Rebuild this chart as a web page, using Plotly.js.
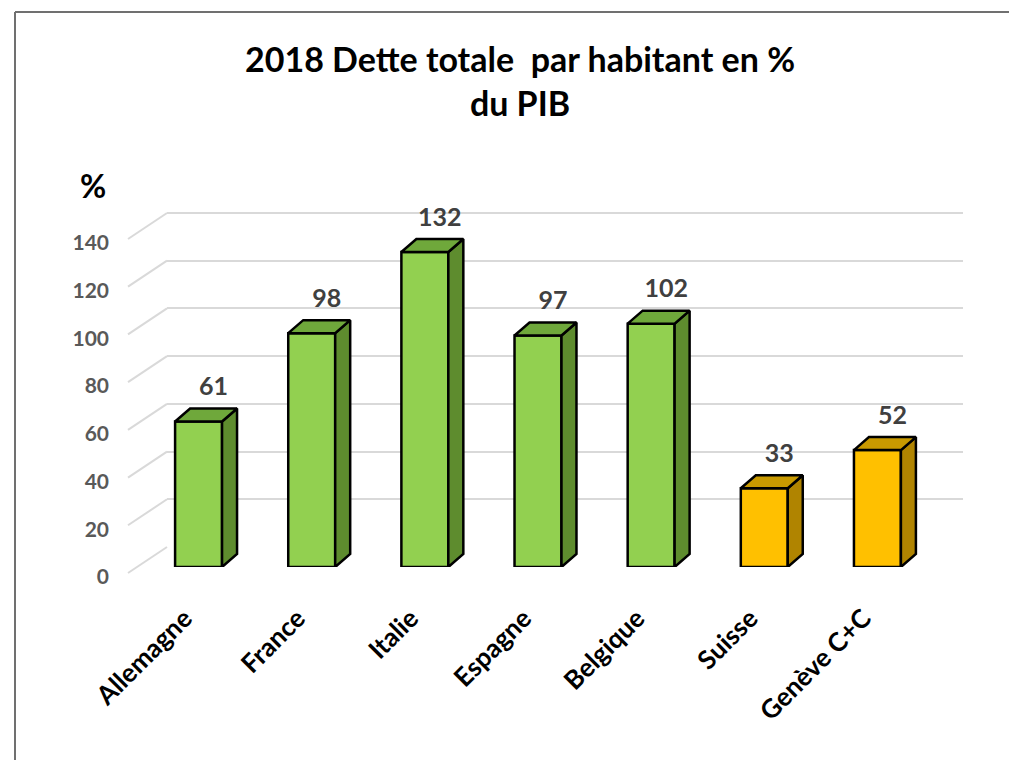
<!DOCTYPE html>
<html>
<head>
<meta charset="utf-8">
<script src="https://cdn.plot.ly/plotly-3.0.1.min.js"></script>
<style>html,body{margin:0;padding:0;background:#fff;}#chart{width:1009px;height:760px;}</style>
</head>
<body>
<div id="chart"></div>
<script>
// ---- data ----
var categories = ["Allemagne", "France", "Italie", "Espagne", "Belgique", "Suisse", "Genève C+C"];
var values = [61, 98, 132, 97, 102, 33, 49];
var valueLabels = ["61", "98", "132", "97", "102", "33", "52"];
var groups = ["eu", "eu", "eu", "eu", "eu", "ch", "ch"];
var yTicks = [0, 20, 40, 60, 80, 100, 120, 140];

// ---- styles ----
var FONT = "Lato, 'Open Sans', sans-serif";
var palette = {
  eu: {front: "#92D050", side: "#5E8C2E", top: "#6FA83B"},
  ch: {front: "#FFC000", side: "#B08400", top: "#C99A00"}
};
var W = 1009, H = 760;
// pixel geometry
var frontL = 142, frontR = 934, frontBottom = 567, frontTop = 180;
var backL = 167, backR = 963, backBottom = 547, backTop = 160;
var pxPerUnit = 2.386;
var yMax = (frontBottom - frontTop) / pxPerUnit;
var n = categories.length;
var pxPerCat = (frontR - frontL) / n;
var barW = 0.415;
var depthX = 15 / pxPerCat;      // in x units
var depthY = 13 / pxPerUnit;     // in y units

var xs = categories.map(function(_, i){ return i; });

var traces = [];
// invisible trace on back wall subplot to make it render
traces.push({x:[0], y:[0], xaxis:"x", yaxis:"y", type:"scatter", mode:"markers",
  marker:{opacity:0}, hoverinfo:"skip", showlegend:false});

// front faces
traces.push({
  type:"bar", x: xs, y: values, width: barW, xaxis:"x2", yaxis:"y2",
  marker:{color: groups.map(function(g){return palette[g].front;}), line:{color:"#000", width:2.5}},
  hoverinfo:"skip", showlegend:false
});

// side and top faces per group
["eu","ch"].forEach(function(g){
  var sx=[], sy=[], tx=[], ty=[];
  xs.forEach(function(x, i){
    if (groups[i] !== g) return;
    var v = values[i], r = x + barW/2, l = x - barW/2;
    sx.push(r, r+depthX, r+depthX, r, r, null);
    sy.push(0, depthY, v+depthY, v, 0, null);
    tx.push(l, r, r+depthX, l+depthX, l, null);
    ty.push(v, v, v+depthY, v+depthY, v, null);
  });
  traces.push({type:"scatter", mode:"lines", x:sx, y:sy, fill:"toself", fillcolor:palette[g].side,
    line:{color:"#000", width:2.5}, xaxis:"x2", yaxis:"y2", hoverinfo:"skip", showlegend:false, connectgaps:false});
  traces.push({type:"scatter", mode:"lines", x:tx, y:ty, fill:"toself", fillcolor:palette[g].top,
    line:{color:"#000", width:2.5}, xaxis:"x2", yaxis:"y2", hoverinfo:"skip", showlegend:false, connectgaps:false});
});

// value labels
traces.push({
  type:"scatter", mode:"text", x: xs.map(function(x){return x + depthX;}),
  y: values.map(function(v){return v + depthY + 3;}),
  text: valueLabels, textposition:"top center",
  textfont:{family:FONT, size:25, color:"#404040", weight:700},
  xaxis:"x2", yaxis:"y2", hoverinfo:"skip", showlegend:false, cliponaxis:false
});

// diagonal connectors from front labels to back wall gridlines
var shapes = [];
yTicks.forEach(function(t){
  var yFront = frontBottom + 8 - t*pxPerUnit;
  var yBack = backBottom - t*pxPerUnit;
  shapes.push({type:"line", xref:"paper", yref:"paper",
    x0: 128/W, y0: 1 - (yFront-2)/H, x1: backL/W, y1: 1 - yBack/H,
    line:{color:"#D9D9D9", width:2}, layer:"below"});
});
// frame
shapes.push({type:"line", xref:"paper", yref:"paper", x0:15/W, y0:1-12/H, x1:1, y1:1-12/H, line:{color:"#707070", width:2}});
shapes.push({type:"line", xref:"paper", yref:"paper", x0:15/W, y0:1-12/H, x1:15/W, y1:0, line:{color:"#707070", width:2}});

var layout = {
  width: W, height: H,
  margin:{l:0, r:0, t:0, b:0},
  paper_bgcolor:"#fff", plot_bgcolor:"rgba(0,0,0,0)",
  showlegend:false,
  title:{text:"2018 Dette totale  par habitant en %<br>du PIB", x:520/W, xanchor:"center",
    y:1-72/H, yanchor:"middle", yref:"paper",
    font:{family:FONT, size:34, color:"#000", weight:700}},
  xaxis:{domain:[backL/W, backR/W], range:[-0.5, n-0.5], showgrid:false, zeroline:false,
    showticklabels:false, ticks:"", fixedrange:true},
  yaxis:{domain:[1-backBottom/H, 1-backTop/H], range:[0, yMax], tickvals:yTicks, showgrid:true,
    gridcolor:"#D9D9D9", gridwidth:2, zeroline:false, showticklabels:false, ticks:"", fixedrange:true},
  xaxis2:{domain:[frontL/W, frontR/W], range:[-0.5, n-0.5], anchor:"y2", tickvals:xs, ticktext:categories,
    tickangle:-45, showgrid:false, zeroline:false, showline:false, ticks:"", ticklabelstandoff:30,
    ticklabelshift:-14,
    tickfont:{family:FONT, size:26, color:"#000", weight:700}, fixedrange:true},
  yaxis2:{domain:[1-frontBottom/H, 1-frontTop/H], range:[0, yMax], anchor:"x2", tickvals:yTicks,
    showgrid:false, zeroline:false, showline:false, ticks:"", ticklabelshift:10, ticklabelstandoff:32,
    tickfont:{family:FONT, size:21, color:"#595959", weight:700}, fixedrange:true},
  shapes: shapes,
  annotations:[{text:"%", xref:"paper", yref:"paper", x:93/W, y:1-185/H, xanchor:"center", yanchor:"middle",
    showarrow:false, font:{family:FONT, size:32, color:"#000", weight:700}}]
};

Plotly.newPlot("chart", traces, layout, {displayModeBar:false, staticPlot:true});
</script>
</body>
</html>
